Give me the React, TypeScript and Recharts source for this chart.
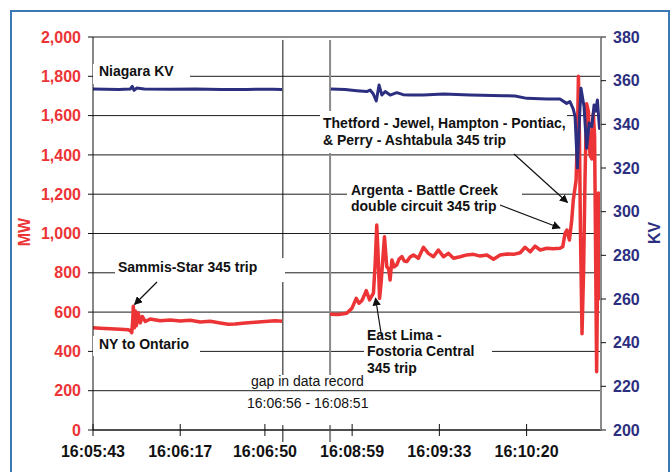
import { CartesianGrid, Line, LineChart, ReferenceLine, XAxis, YAxis } from "recharts";

const FONT = '"Liberation Sans", Arial, Helvetica, sans-serif';
const RED = "#ec3436";
const NAVY = "#2c2f80";

// x is seconds on the chart's time axis, counted from 16:05:43, with the gap squeezed
const timeTicks = [0, 34, 67, 101, 135, 169];
const timeLabels = ["16:05:43", "16:06:17", "16:06:50", "16:08:59", "16:09:33", "16:10:20"];
const gapStart = 74; // 16:06:56
const gapEnd = 92.4; // 16:08:51

const mwTicks = [0, 200, 400, 600, 800, 1000, 1200, 1400, 1600, 1800, 2000];
const kvTicks = [200, 220, 240, 260, 280, 300, 320, 340, 360, 380];

// NY to Ontario flow, MW
const mwLeftT = [0, 2.8, 6.7, 10.6, 13.8, 14.7, 15.1, 15.5, 15.7, 16.1, 16.5, 16.9, 17.6, 18.4, 19.2, 20.4, 22.3, 26.2, 30.1, 34, 37.9, 41.8, 45.7, 49.6, 52.7, 55.4, 59.3, 63.2, 67.1, 71, 73.7];
const mwLeftV = [520, 518, 515, 513, 510, 505, 495, 560, 630, 520, 605, 530, 597, 545, 578, 552, 565, 556, 560, 555, 558, 550, 553, 545, 538, 540, 545, 548, 552, 556, 553];
const mwRightT = [92.4, 95.6, 98.9, 100.9, 102.6, 103.7, 104.9, 106.5, 107.8, 109.3, 110, 110.6, 111.1, 111.7, 112.3, 113.6, 114.5, 115.2, 115.8, 116.5, 117.4, 118.4, 119.3, 120.4, 121.3, 122.3, 123.6, 124.9, 126.8, 128.8, 130.7, 132.7, 134.6, 136.6, 138.5, 140.5, 143.1, 145.7, 148.3, 150.9, 153.5, 156.1, 158.7, 161.3, 163.9, 166.5, 168.4, 170.4, 172.3, 174.3, 176.9, 179.3, 182, 183.1, 184, 184.7, 185.7, 186.6, 187.2, 188.3, 188.9, 189.2, 189.6, 190, 190.6, 191.2, 191.8, 192.4, 193.1, 193.7, 194.4, 195, 195.5, 196.3, 197, 197.5, 197.9];
const mwRightV = [589, 588, 594, 619, 670, 645, 660, 709, 662, 696, 850, 1043, 900, 670, 750, 984, 831, 820, 763, 865, 830, 840, 870, 882, 860, 857, 880, 891, 874, 930, 899, 882, 916, 882, 899, 874, 882, 891, 894, 885, 891, 869, 891, 896, 894, 902, 930, 907, 936, 916, 925, 922, 925, 933, 1001, 1018, 967, 1069, 1170, 1272, 1550, 1800, 1500, 1000, 490, 800, 1300, 1660, 1620, 1400, 1380, 1610, 1500, 297, 1206, 1000, 660];

// Niagara voltage, KV
const kvLeftT = [0, 5, 10, 14.5, 15.3, 16, 17, 20, 30, 40, 50, 60, 70, 73.7];
const kvLeftV = [356.2, 356.1, 356.0, 356.2, 357.4, 355.6, 356.6, 356.2, 356.1, 356.2, 356.0, 356.0, 356.1, 356.0];
const kvRightT = [92.7, 98.3, 102.8, 106.7, 108, 109.2, 110.4, 111.5, 112.6, 113.9, 115.8, 118.4, 120.9, 123.6, 128.8, 136.6, 147, 160, 164.5, 169.1, 176.9, 182, 184.6, 185.9, 187.2, 187.9, 188.8, 189.5, 190.2, 191.4, 192.4, 193.4, 194.4, 195.3, 195.9, 196.6, 197.4, 198];
const kvRightV = [356.2, 355.9, 355.4, 355.0, 355.7, 354.0, 350.7, 358.0, 353.4, 355.0, 353.4, 354.5, 353.6, 353.4, 353.4, 353.9, 353.4, 353.1, 353.0, 351.9, 351.6, 351.6, 349.6, 350.4, 347, 343.5, 320, 340, 356.5, 348, 329, 340.6, 338.9, 348.9, 346, 351.1, 338.1, 343.5];

const pairs = (ts: number[], vs: number[], key: string) => ts.map((t, i) => ({ t, [key]: vs[i] }));
const gapMid = (gapStart + gapEnd) / 2;
const mwData = [...pairs(mwLeftT, mwLeftV, "mw"), { t: gapMid, mw: null }, ...pairs(mwRightT, mwRightV, "mw")];
const kvData = [...pairs(kvLeftT, kvLeftV, "kv"), { t: gapMid, kv: null }, ...pairs(kvRightT, kvRightV, "kv")];

type Note = { box: [number, number, number, number]; x: number; y: number; gap: number; lines: string[]; bold: boolean };
const notes: Note[] = [
  { box: [93, 64, 97, 20], x: 99, y: 76.5, gap: 17, lines: ["Niagara KV"], bold: true },
  { box: [320, 111, 247, 42], x: 323, y: 128.3, gap: 16.7, lines: ["Thetford - Jewel, Hampton - Pontiac,", "& Perry - Ashtabula 345 trip"], bold: true },
  { box: [347, 180, 175, 35], x: 351, y: 195, gap: 16.5, lines: ["Argenta - Battle Creek", "double circuit 345 trip"], bold: true },
  { box: [115, 258, 170, 24], x: 118, y: 272.5, gap: 17, lines: ["Sammis-Star 345 trip"], bold: true },
  { box: [93, 336, 107, 20], x: 99, y: 349.3, gap: 17, lines: ["NY to Ontario"], bold: true },
  { box: [364, 327, 128, 50], x: 367, y: 340, gap: 16.7, lines: ["East Lima -", "Fostoria Central", "345 trip"], bold: true },
  { box: [0, 0, 0, 0], x: 251, y: 386.7, gap: 21.6, lines: ["gap in data record"], bold: false },
  { box: [0, 0, 0, 0], x: 247, y: 408.3, gap: 17, lines: ["16:06:56 - 16:08:51"], bold: false },
];

const arrows: [number, number, number, number][] = [
  [157, 282, 134.5, 304.5],
  [381.5, 336, 375.5, 298],
  [514, 154, 567.5, 202.5],
  [500, 205, 560, 228],
];

function TimeTick(props: any) {
  const { x, y, payload } = props;
  const label = timeLabels[timeTicks.indexOf(payload.value)];
  return (
    <g>
      <line x1={x} x2={x} y1={y - 6} y2={y + 6} stroke="#111" />
      <text x={x} y={y + 27} textAnchor="middle" fontFamily={FONT} fontSize={16} fontWeight={700} fill="#111">
        {label}
      </text>
    </g>
  );
}

export default function App() {
  return (
    <div style={{ position: "absolute", left: 0, top: 0, width: 671, height: 472, overflow: "hidden", background: "#fff", fontFamily: FONT }}>
      <div style={{ position: "absolute", left: 10, top: 10, width: 656, height: 480, border: "2px solid #3a78b6" }} />
      <div style={{ position: "absolute", left: 0, top: 0 }}>
        <LineChart width={671} height={472} margin={{ top: 37, right: 0, bottom: 0, left: 0 }}>
          <CartesianGrid yAxisId="mw" vertical={false} stroke="#1c1c1c" />
          <XAxis
            type="number"
            dataKey="t"
            domain={[0, 198]}
            ticks={timeTicks}
            interval={0}
            allowDataOverflow
            height={42}
            tickSize={0}
            tickMargin={0}
            tickLine={false}
            axisLine={{ stroke: "#111" }}
            tick={(p: any) => <TimeTick {...p} />}
          />
          <YAxis
            yAxisId="mw"
            orientation="left"
            width={93}
            domain={[0, 2000]}
            ticks={mwTicks}
            interval={0}
            tickSize={5}
            tickMargin={7}
            axisLine={{ stroke: "#111" }}
            tickLine={{ stroke: "#111" }}
            tick={{ fill: RED, fontSize: 16, fontWeight: 700, fontFamily: FONT }}
            tickFormatter={(v: number) => v.toLocaleString("en-US")}
          />
          <YAxis
            yAxisId="kv"
            orientation="right"
            width={70}
            domain={[200, 380]}
            ticks={kvTicks}
            interval={0}
            tickSize={5}
            tickMargin={7}
            axisLine={{ stroke: "#8a8a8a", strokeWidth: 2 }}
            tickLine={{ stroke: "#111" }}
            tick={{ fill: NAVY, fontSize: 16, fontWeight: 700, fontFamily: FONT }}
          />
          <ReferenceLine yAxisId="mw" segment={[{ x: gapStart, y: 1985 }, { x: gapStart, y: 280 }]} stroke="#111" ifOverflow="visible" />
          <ReferenceLine yAxisId="mw" segment={[{ x: gapStart, y: 25 }, { x: gapStart, y: -61 }]} stroke="#111" ifOverflow="visible" />
          <ReferenceLine yAxisId="mw" segment={[{ x: gapEnd, y: 1985 }, { x: gapEnd, y: 280 }]} stroke="#8a8a8a" strokeWidth={2} ifOverflow="visible" />
          <ReferenceLine yAxisId="mw" segment={[{ x: gapEnd, y: 25 }, { x: gapEnd, y: -61 }]} stroke="#8a8a8a" strokeWidth={2} ifOverflow="visible" />
          <Line
            yAxisId="mw"
            data={mwData}
            dataKey="mw"
            type="linear"
            stroke={RED}
            strokeWidth={3.5}
            strokeLinejoin="round"
            dot={false}
            connectNulls={false}
            isAnimationActive={false}
          />
          <Line
            yAxisId="kv"
            data={kvData}
            dataKey="kv"
            type="linear"
            stroke={NAVY}
            strokeWidth={3}
            strokeLinejoin="round"
            dot={false}
            connectNulls={false}
            isAnimationActive={false}
          />
        </LineChart>
      </div>

      {notes.map((n, i) => (
        <div key={i}>
          {n.box[2] > 0 && (
            <div style={{ position: "absolute", left: n.box[0], top: n.box[1], width: n.box[2], height: n.box[3], background: "#fff" }} />
          )}
          {n.lines.map((line, j) => (
            <div
              key={j}
              style={{
                position: "absolute",
                left: n.x,
                top: n.y + j * n.gap - 13.35,
                fontSize: 14,
                lineHeight: "17px",
                fontWeight: n.bold ? 700 : 400,
                color: "#111",
                whiteSpace: "nowrap",
              }}
            >
              {line}
            </div>
          ))}
        </div>
      ))}

      <div style={{ position: "absolute", left: 25, top: 232, transform: "translate(-50%, -50%) rotate(-90deg)", color: RED, fontSize: 16, fontWeight: 700 }}>
        MW
      </div>
      <div style={{ position: "absolute", left: 655, top: 232.5, transform: "translate(-50%, -50%) rotate(-90deg)", color: NAVY, fontSize: 16, fontWeight: 700 }}>
        KV
      </div>

      <svg width={671} height={472} style={{ position: "absolute", left: 0, top: 0, pointerEvents: "none" }}>
        <defs>
          <marker id="head" viewBox="0 0 10 10" refX={9} refY={5} markerWidth={7} markerHeight={7} orient="auto">
            <path d="M0,0 L10,5 L0,10 Z" fill="#111" />
          </marker>
        </defs>
        {arrows.map(([x1, y1, x2, y2], i) => (
          <line key={i} x1={x1} y1={y1} x2={x2} y2={y2} stroke="#111" strokeWidth={1.2} markerEnd="url(#head)" />
        ))}
      </svg>
    </div>
  );
}
